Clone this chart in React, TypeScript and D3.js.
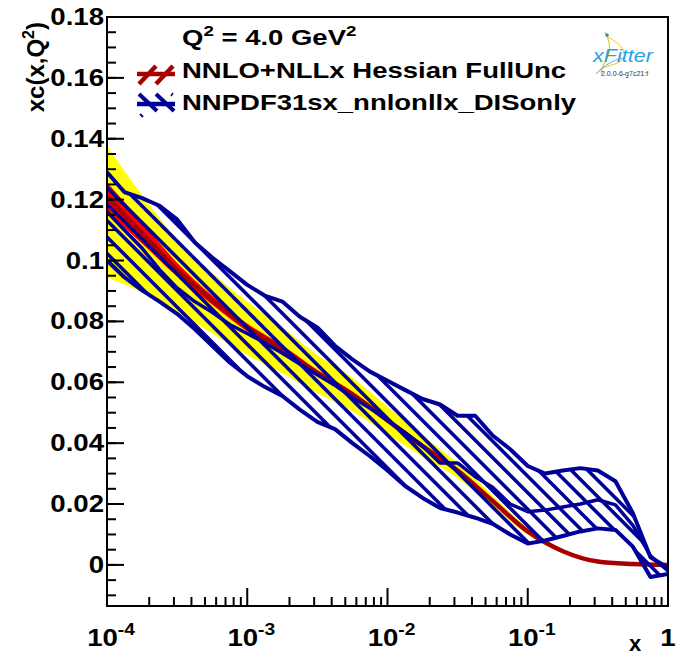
import * as d3 from 'd3';

// NNLO+NLLx Hessian FullUnc at quarter-decade steps
const xRed = [1e-4, 1.78e-4, 3.16e-4, 5.62e-4, 1e-3, 1.78e-3, 3.16e-3, 5.62e-3, 1e-2, 1.78e-2, 3.16e-2, 5.62e-2, 0.1, 0.178, 0.316, 0.562, 1];
const redCentral = [0.121, 0.109, 0.097, 0.087, 0.078, 0.071, 0.063, 0.056, 0.0475, 0.039, 0.031, 0.021, 0.011, 0.0045, 0.0011, 0.0003, 0.0];
const redUp = [0.1257, 0.1125, 0.0993, 0.0885, 0.0793, 0.0722, 0.0641, 0.057, 0.0484, 0.0397, 0.0316, 0.0214, 0.0113, 0.0047, 0.0012, 0.0003, 0.0];
const redLo = [0.116, 0.1055, 0.0948, 0.0855, 0.0767, 0.0698, 0.0619, 0.055, 0.0466, 0.0383, 0.0304, 0.0206, 0.0107, 0.0043, 0.001, 0.0003, 0.0];
const yellowUp = [0.1375, 0.1215, 0.107, 0.096, 0.0865, 0.078, 0.069, 0.0615, 0.052, 0.0425, 0.0335, 0.0228, 0.0122, 0.0052, 0.0014, 0.0004, 0.0];
const yellowLo = [0.0944, 0.0895, 0.083, 0.076, 0.069, 0.063, 0.0565, 0.0505, 0.043, 0.0355, 0.0285, 0.0192, 0.0098, 0.0038, 0.0008, 0.0002, 0.0];

// NNPDF31sx_nnlonllx_DISonly, eighth-decade steps
const xBlue = [1e-4, 1.33e-4, 1.78e-4, 2.37e-4, 3.16e-4, 4.22e-4, 5.62e-4, 7.5e-4, 1e-3, 1.33e-3, 1.78e-3, 2.37e-3, 3.16e-3, 4.22e-3, 5.62e-3, 7.5e-3, 1e-2, 1.33e-2, 1.78e-2, 2.37e-2, 3.16e-2, 4.22e-2, 5.62e-2, 7.5e-2, 0.1, 0.133, 0.178, 0.237, 0.316, 0.422, 0.562, 0.75, 1];
const blueUp = [0.129, 0.1225, 0.1205, 0.118, 0.1135, 0.106, 0.101, 0.0965, 0.092, 0.0885, 0.0865, 0.0815, 0.078, 0.072, 0.0675, 0.0635, 0.0605, 0.0575, 0.0545, 0.0527, 0.049, 0.049, 0.0425, 0.038, 0.0325, 0.03, 0.031, 0.0318, 0.031, 0.0275, 0.017, 0.0025, -0.001];
const blueLo = [0.1, 0.0945, 0.0902, 0.0865, 0.0825, 0.0775, 0.072, 0.0665, 0.062, 0.0585, 0.0555, 0.051, 0.047, 0.0446, 0.04, 0.0357, 0.031, 0.026, 0.022, 0.0187, 0.0172, 0.0155, 0.0135, 0.01, 0.007, 0.008, 0.0095, 0.011, 0.012, 0.0115, 0.006, -0.004, -0.003];
const blueMid = [0.116, 0.11, 0.104, 0.097, 0.091, 0.0865, 0.083, 0.079, 0.076, 0.073, 0.0695, 0.066, 0.0625, 0.059, 0.055, 0.0515, 0.0475, 0.0435, 0.039, 0.0335, 0.0335, 0.029, 0.0255, 0.02, 0.0175, 0.018, 0.019, 0.02, 0.0214, 0.0197, 0.013, 0.003, -0.002];

const yTickValues = [0, 0.02, 0.04, 0.06, 0.08, 0.1, 0.12, 0.14, 0.16, 0.18];
const yTickLabels = ['0', '0.02', '0.04', '0.06', '0.08', '0.1', '0.12', '0.14', '0.16', '0.18'];
const xTickValues = [1e-4, 1e-3, 1e-2, 1e-1, 1];
const xTickExp = ['-4', '-3', '-2', '-1', ''];

const W = 682;
const H = 657;
const fr = { l: 107, r: 668, t: 17, b: 606 };
const FONT = '"Liberation Sans", Arial, Helvetica, sans-serif';
const BLUE = '#000099';
const DARKRED = '#a80000';

const xs = d3.scaleLog().domain([1e-4, 1]).range([fr.l, fr.r]);
const ys = d3.scaleLinear().domain([-0.0135, 0.18]).range([fr.b, fr.t]);

const band = (xv: number[], lo: number[], hi: number[], curve: d3.CurveFactory) =>
    d3.area<number>()
        .x((d) => xs(d))
        .y0((_, i) => ys(lo[i]))
        .y1((_, i) => ys(hi[i]))
        .curve(curve)(xv) || '';

const line = (xv: number[], v: number[], curve: d3.CurveFactory) =>
    d3.line<number>()
        .x((d) => xs(d))
        .y((_, i) => ys(v[i]))
        .curve(curve)(xv) || '';

export default function App() {
    const yMinor = d3.range(-0.01, 0.1801, 0.005);
    const xMinor: number[] = [];
    [1e-4, 1e-3, 1e-2, 1e-1].forEach((dec) => d3.range(2, 10).forEach((m) => xMinor.push(dec * m)));
    const hatch = d3.range(-662, 520, 16.5); // 45 degree hatch lines, y = x + c

    return (
        <svg width={W} height={H} style={{ position: 'absolute', left: 0, top: 0, background: '#fff' }}>
            <defs>
                <clipPath id="plotArea">
                    <rect x={fr.l} y={fr.t} width={fr.r - fr.l} height={fr.b - fr.t} />
                </clipPath>
                <clipPath id="blueBand">
                    <path d={band(xBlue, blueLo, blueUp, d3.curveLinear)} />
                </clipPath>
            </defs>
            <rect x={0} y={0} width={W} height={H} fill="#fff" />

            <g clipPath="url(#plotArea)">
                <path d={band(xRed, yellowLo, yellowUp, d3.curveMonotoneX)} fill="#ffff00" />
                <path d={band(xRed, redLo, redUp, d3.curveMonotoneX)} fill="#ff0000" />
                <path d={line(xRed, redCentral, d3.curveMonotoneX)} fill="none" stroke={DARKRED} strokeWidth={4.5} />

                <g clipPath="url(#blueBand)">
                    {hatch.map((c) => (
                        <line key={c} x1={fr.l} y1={fr.l + c} x2={fr.r} y2={fr.r + c} stroke={BLUE} strokeWidth={3.5} />
                    ))}
                </g>
                <path d={line(xBlue, blueUp, d3.curveLinear)} fill="none" stroke={BLUE} strokeWidth={4} strokeLinejoin="round" />
                <path d={line(xBlue, blueLo, d3.curveLinear)} fill="none" stroke={BLUE} strokeWidth={4} strokeLinejoin="round" />
                <path d={line(xBlue, blueMid, d3.curveLinear)} fill="none" stroke={BLUE} strokeWidth={3.5} strokeLinejoin="round" />
            </g>

            {/* frame and ticks */}
            <rect x={fr.l} y={fr.t} width={fr.r - fr.l} height={fr.b - fr.t} fill="none" stroke="#000" strokeWidth={2} />
            {yMinor.map((v) => (
                <line key={'ym' + v} x1={fr.l} x2={fr.l + 9} y1={ys(v)} y2={ys(v)} stroke="#000" strokeWidth={2} />
            ))}
            {yTickValues.map((v) => (
                <line key={'yM' + v} x1={fr.l} x2={fr.l + 17} y1={ys(v)} y2={ys(v)} stroke="#000" strokeWidth={2} />
            ))}
            {xMinor.map((v) => (
                <line key={'xm' + v} x1={xs(v)} x2={xs(v)} y1={fr.b} y2={fr.b - 9} stroke="#000" strokeWidth={2} />
            ))}
            {xTickValues.map((v) => (
                <line key={'xM' + v} x1={xs(v)} x2={xs(v)} y1={fr.b} y2={fr.b - 18} stroke="#000" strokeWidth={2} />
            ))}

            <g fontFamily={FONT} fontWeight="bold" fill="#000">
                {yTickValues.map((v, i) => (
                    <text key={'yl' + v} transform={`translate(104,${ys(v) + 8}) scale(1.2,1)`} textAnchor="end" fontSize={23}>
                        {yTickLabels[i]}
                    </text>
                ))}
                {xTickValues.map((v, i) => (
                    <text key={'xl' + v} transform={`translate(${xs(v) + (xTickExp[i] ? 4 : 0)},646) scale(1.2,1)`} textAnchor="middle" fontSize={23}>
                        {xTickExp[i] ? '10' : '1'}
                        {xTickExp[i] && (
                            <tspan fontSize={16} dy={-11}>{xTickExp[i]}</tspan>
                        )}
                    </text>
                ))}
                <text transform="translate(44,22) rotate(-90)" textAnchor="end" fontSize={24}>
                    xc(x,Q<tspan fontSize={16} dy={-10}>2</tspan>
                    <tspan dy={10}>)</tspan>
                </text>
                <text x={635} y={651} textAnchor="middle" fontSize={22}>x</text>

                {/* legend */}
                <text transform="translate(182,45) scale(1.25,1)" fontSize={22}>
                    Q<tspan fontSize={15} dy={-9}>2</tspan>
                    <tspan dy={9}> = 4.0 GeV</tspan>
                    <tspan fontSize={15} dy={-9}>2</tspan>
                </text>
                <text transform="translate(182,78) scale(1.25,1)" fontSize={22}>NNLO+NLLx Hessian FullUnc</text>
                <text transform="translate(182,110) scale(1.25,1)" fontSize={22}>NNPDF31sx_nnlonllx_DISonly</text>
            </g>

            <g strokeLinecap="butt">
                <line x1={137} x2={175} y1={74} y2={74} stroke={DARKRED} strokeWidth={4.5} />
                <line x1={139} x2={156} y1={84} y2={66} stroke={DARKRED} strokeWidth={4.5} />
                <line x1={156} x2={173} y1={84} y2={66} stroke={DARKRED} strokeWidth={4.5} />
                <line x1={137} x2={175} y1={104} y2={104} stroke={BLUE} strokeWidth={4.5} />
                <line x1={139} x2={157} y1={94} y2={111} stroke={BLUE} strokeWidth={4} />
                <line x1={156} x2={174} y1={94} y2={111} stroke={BLUE} strokeWidth={4} />
                <line x1={171} x2={173} y1={96} y2={93} stroke={BLUE} strokeWidth={1.5} />
                <line x1={140} x2={143} y1={114} y2={117} stroke={BLUE} strokeWidth={2} />
            </g>

            {/* xFitter logo */}
            <g>
                <path d="M605,32 C609,40 612,48 607,58 C603,66 600,70 602,74" fill="none" stroke="#f2c318" strokeWidth={1.2} />
                <path d="M606,36 C618,42 630,52 622,60 C616,66 606,64 598,72" fill="none" stroke="#f2c318" strokeWidth={1} />
                <circle cx={607} cy={35} r={1.8} fill="#2a8fd8" />
                <path d="M596,74 C604,66 612,60 624,58" fill="none" stroke="#58b4ea" strokeWidth={1} />
                <text transform="translate(593,62) scale(1.2,1)" fontFamily={FONT} fontStyle="italic" fontSize={18} fill="#2ba0e6">
                    xFitter
                </text>
                <text x={601} y={76} fontFamily={FONT} fontSize={7} fill="#333">2.0.0-6-g7c21:f</text>
            </g>
        </svg>
    );
}
